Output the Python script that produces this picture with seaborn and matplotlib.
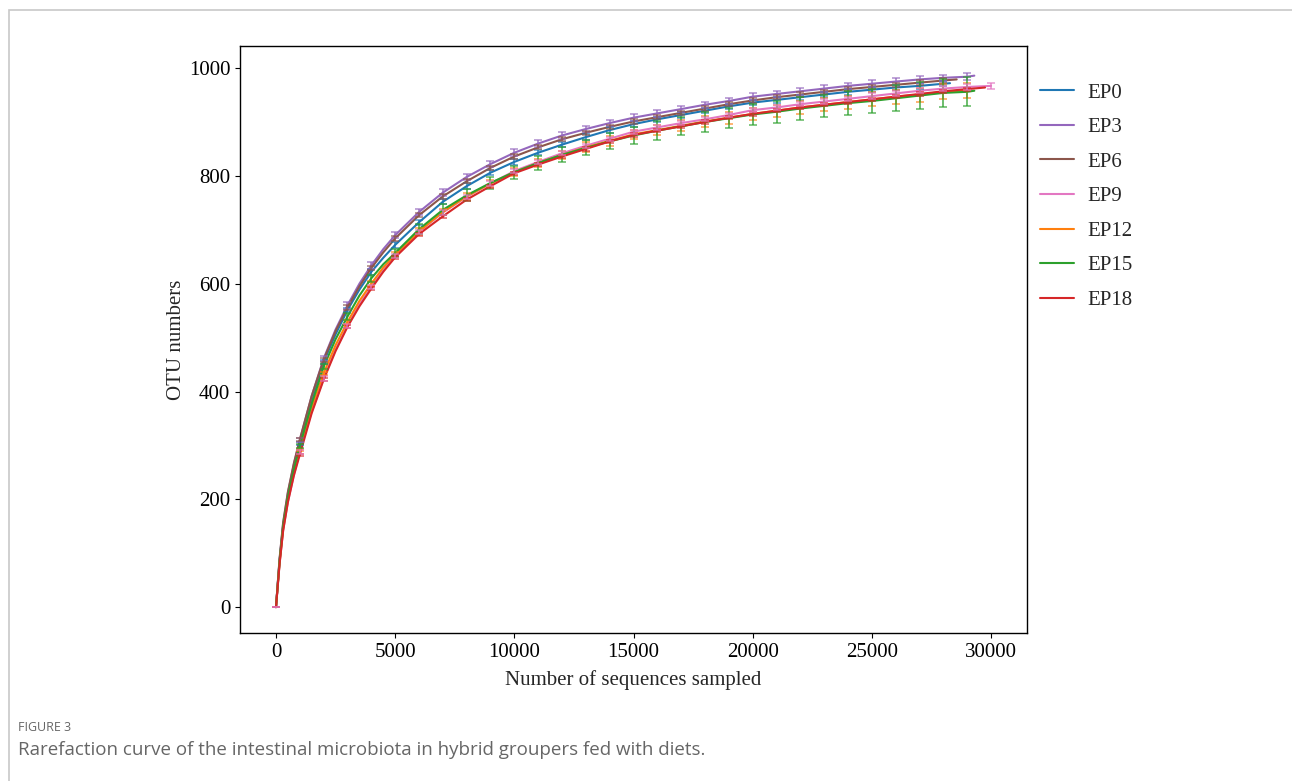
import pandas as pd
import seaborn as sns
import matplotlib.pyplot as plt
from matplotlib.patches import Rectangle

# sequences sampled (shared grid up to 28000)
seqs = [0, 150, 300, 500, 750, 1000, 1500, 2000, 2500, 3000, 3500, 4000, 4500, 5000,
        6000, 7000, 8000, 9000, 10000, 11000, 12000, 13000, 14000, 15000, 16000, 17000,
        18000, 19000, 20000, 21000, 22000, 23000, 24000, 25000, 26000, 27000, 28000]

groups = ["EP0", "EP3", "EP6", "EP9", "EP12", "EP15", "EP18"]

ep0 = [0, 86, 151, 207, 259, 303, 385, 455, 506, 551, 589, 622, 648, 672, 714, 752, 781, 806, 826,
       843, 858, 872, 885, 896, 905, 913, 921, 929, 936, 941, 946, 951, 956, 960, 964, 967, 971]
ep3 = [0, 88, 155, 212, 265, 310, 392, 461, 515, 560, 600, 634, 664, 690, 733, 769, 798, 822, 843,
       860, 875, 887, 898, 908, 916, 924, 932, 939, 947, 952, 957, 962, 967, 971, 975, 979, 982]
ep6 = [0, 90, 157, 214, 267, 311, 392, 459, 512, 556, 595, 629, 658, 684, 727, 762, 790, 815, 836,
       853, 868, 880, 891, 901, 909, 917, 925, 933, 940, 946, 951, 956, 961, 965, 969, 973, 977]
ep9 = [0, 80, 142, 195, 245, 288, 363, 424, 478, 522, 562, 594, 625, 652, 696, 732, 761, 786, 809,
       826, 842, 856, 869, 882, 890, 898, 905, 913, 922, 927, 933, 938, 943, 948, 953, 958, 962]
ep12 = [0, 82, 145, 199, 249, 292, 370, 434, 486, 529, 568, 600, 630, 654, 697, 733, 762, 786, 807,
        824, 839, 853, 865, 877, 885, 893, 901, 908, 915, 921, 927, 932, 937, 942, 947, 951, 956]
ep15 = [0, 85, 149, 204, 255, 299, 377, 446, 497, 539, 578, 610, 636, 657, 701, 737, 764, 787, 807,
        824, 839, 852, 864, 875, 884, 892, 900, 907, 914, 919, 925, 930, 935, 939, 944, 949, 954]
ep18 = [0, 80, 142, 195, 244, 283, 360, 422, 475, 520, 558, 591, 622, 649, 692, 725, 756, 781, 805,
        821, 836, 850, 864, 876, 884, 892, 900, 908, 915, 921, 927, 932, 937, 942, 947, 952, 957]

# last points of each curve (beyond 28000)
tail_x = {"EP0": [28280], "EP3": [29000, 29300], "EP6": [28560], "EP9": [29000, 30000],
          "EP12": [29000], "EP15": [29000, 29300], "EP18": [29000, 29750]}
tail_y = {"EP0": [972], "EP3": [984, 986], "EP6": [979], "EP9": [965, 967],
          "EP12": [959], "EP15": [956, 958], "EP18": [961, 964]}

# error bars at 0, 1000, 2000, ...
err_ep0 = [0, 3, 4, 4, 5, 5, 5, 5, 5, 5, 5, 5, 5, 5, 5, 5, 5, 5, 5, 5, 5, 5, 5, 5, 5, 5, 5, 5, 5]
err_ep3 = [0, 4, 5, 6, 6, 6, 6, 6, 6, 6, 6, 6, 6, 6, 6, 6, 6, 6, 6, 6, 6, 6, 6, 6, 6, 6, 6, 6, 6, 7]
err_ep6 = [0, 3, 4, 4, 4, 4, 4, 4, 4, 4, 4, 4, 4, 4, 4, 4, 4, 4, 4, 4, 4, 4, 4, 4, 4, 4, 4, 4, 4]
err_ep9 = [0, 3, 4, 4, 4, 4, 4, 4, 4, 4, 4, 4, 4, 4, 4, 4, 4, 4, 4, 4, 4, 4, 4, 4, 4, 5, 5, 5, 5, 5, 6]
err_ep12 = [0, 2, 3, 4, 5, 5, 6, 6, 7, 7, 8, 8, 8, 9, 9, 9, 10, 10, 10, 11, 11, 11, 12, 12, 12, 13,
            13, 13, 14, 14]
err_ep15 = [0, 3, 5, 6, 7, 8, 9, 10, 11, 11, 12, 13, 14, 14, 15, 16, 17, 17, 18, 19, 20, 20, 21, 21,
            22, 23, 24, 25, 26, 27]
err_ep18 = [0, 2, 3, 3, 3, 3, 3, 3, 3, 3, 3, 3, 3, 3, 3, 3, 3, 3, 3, 3, 3, 3, 3, 3, 3, 3, 3, 3, 3, 3]

values = {"EP0": ep0, "EP3": ep3, "EP6": ep6, "EP9": ep9, "EP12": ep12, "EP15": ep15, "EP18": ep18}
errors = {"EP0": err_ep0, "EP3": err_ep3, "EP6": err_ep6, "EP9": err_ep9, "EP12": err_ep12,
          "EP15": err_ep15, "EP18": err_ep18}
colors = {"EP0": "tab:blue", "EP3": "tab:purple", "EP6": "tab:brown", "EP9": "tab:pink",
          "EP12": "tab:orange", "EP15": "tab:green", "EP18": "tab:red"}

rows = []
for g in groups:
    xs = seqs + tail_x[g]
    ys = values[g] + tail_y[g]
    for x, y in zip(xs, ys):
        rows.append({"seqs": x, "otu": y, "group": g})
df = pd.DataFrame(rows)

sns.set_style("ticks")
plt.rcParams["font.family"] = ["Liberation Serif", "DejaVu Serif"]
plt.rcParams["xtick.labelsize"] = 15
plt.rcParams["ytick.labelsize"] = 15

fig = plt.figure(figsize=(12.92, 7.81), dpi=100)
ax = fig.add_axes([240 / 1292, 1 - 633 / 781, 787 / 1292, 587 / 781])

sns.lineplot(data=df, x="seqs", y="otu", hue="group", hue_order=groups, palette=colors,
             linewidth=1.5, estimator=None, ax=ax)

# pink drawn last so its cap at 0 shows on top, like the original
for g in ["EP0", "EP3", "EP6", "EP12", "EP15", "EP18", "EP9"]:
    d = df[df["group"] == g].set_index("seqs")["otu"]
    ex = [1000 * i for i in range(len(errors[g]))]
    ey = [d[x] for x in ex]
    ax.errorbar(ex, ey, yerr=errors[g], fmt="none", ecolor=colors[g], elinewidth=1.3,
                capsize=3, capthick=1.1, alpha=0.75)

ax.set_xlim(-1510, 31510)
ax.set_ylim(-48, 1041)
ax.set_xticks([0, 5000, 10000, 15000, 20000, 25000, 30000])
ax.set_yticks([0, 200, 400, 600, 800, 1000])
ax.set_xlabel("Number of sequences sampled", fontsize=15, labelpad=6)
ax.set_ylabel("OTU numbers", fontsize=15, labelpad=2)
for s in ax.spines.values():
    s.set_linewidth(1.0)
    s.set_color("black")
ax.tick_params(color="black", labelcolor="black")

ax.legend(frameon=False, loc="upper left", bbox_to_anchor=(0.993, 0.969), fontsize=15,
          handlelength=1.6, handletextpad=0.65, labelspacing=0.72)

# caption and panel border
fig.add_artist(Rectangle((9 / 1292, -0.05), 1.1, (771 / 781) + 0.05, transform=fig.transFigure,
                         fill=False, edgecolor="#c8c8c8", linewidth=1.2))
fig.text(18 / 1292, 1 - 731 / 781, "FIGURE 3", family="Open Sans", fontsize=9,
         color="#666666", va="baseline")
fig.text(18 / 1292, 1 - 755 / 781,
         "Rarefaction curve of the intestinal microbiota in hybrid groupers fed with diets.",
         family="Open Sans", fontsize=13.5, color="#666666", va="baseline")

fig.savefig("out.png", dpi=100)
